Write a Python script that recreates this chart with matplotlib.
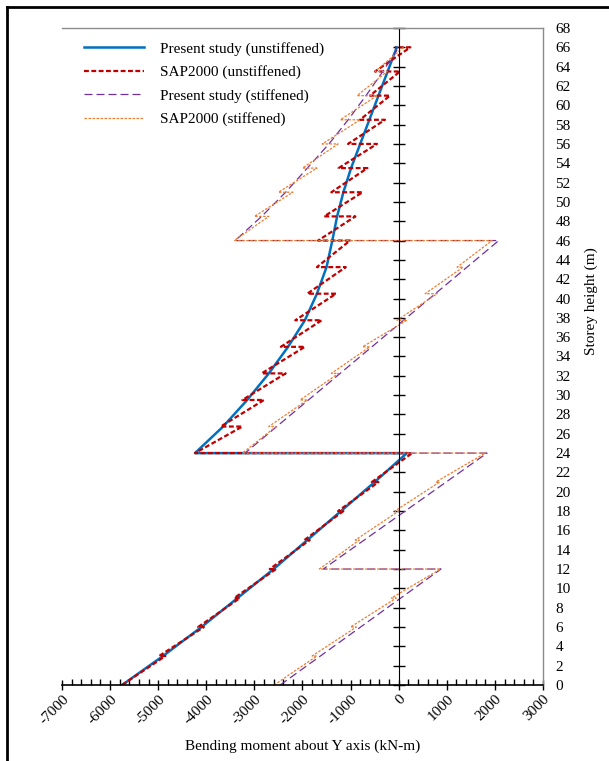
import numpy as np
import matplotlib.pyplot as plt
from matplotlib.lines import Line2D
from matplotlib.ticker import MultipleLocator

plt.rcParams['font.family'] = ['Liberation Serif', 'DejaVu Serif']
plt.rcParams['axes.unicode_minus'] = False

# floor levels (m)
floors = [0, 3, 6, 9, 12, 15, 18, 21, 24,
          26.75, 29.5, 32.25, 35, 37.75, 40.5, 43.25, 46,
          48.5, 51, 53.5, 56, 58.5, 61, 63.5, 66]

# present study, unstiffened (heights with repeated value = jump)
ps_u_h = [0, 3, 6, 9, 12, 15, 18, 21, 24, 24,
          26.75, 29.5, 32.25, 35, 37.75, 40.5, 43.25, 46,
          48.5, 51, 53.5, 56, 58.5, 61, 63.5, 66]
ps_u_m = [-5750, -4900, -4100, -3350, -2600, -1900, -1200, -500, 170, -4235,
          -3650, -3150, -2700, -2300, -1950, -1700, -1500, -1380,
          -1280, -1150, -990, -800, -610, -420, -230, -40]

# SAP2000 unstiffened: moment at bottom / top of each storey
sap_u_bot = [-5750, -4980, -4170, -3420, -2680, -1960, -1260, -560,
             -4235, -3700, -3250, -2850, -2450, -2150, -1900, -1700,
             -1676, -1550, -1400, -1250, -1054, -805, -597, -493]
sap_u_top = [-4850, -4050, -3300, -2550, -1850, -1150, -420, 280,
             -3250, -2800, -2350, -1950, -1600, -1300, -1100, -1012,
             -900, -750, -650, -451, -285, -181, 27, 243]
sap_u_roof = -80

# present study, stiffened
ps_s_h = [0, 12, 12, 24, 24, 46, 46, 48.5, 51, 53.5, 56, 58.5, 61, 63.5, 66]
ps_s_m = [-2463, 879, -1568, 1836, -3195, 2080, -3400, -2850, -2350, -1900,
          -1450, -1050, -680, -330, 0]

# SAP2000 stiffened: moment at bottom / top of each storey
sap_s_bot = [-2590, -1800, -1000, -150, -1650, -900, -80, 770,
             -3250, -2700, -2050, -1400, -750, -35, 550, 1215,
             -3420, -3000, -2500, -2000, -1590, -1214, -865, -490]
sap_s_top = [-1700, -880, -50, 870, -820, 0, 850, 1800,
             -2550, -1900, -1250, -600, 170, 800, 1340, 1940,
             -2700, -2200, -1700, -1260, -800, -450, -240, 100]


def storey_path(bot, top, roof=None):
    xs, ys = [], []
    for i in range(len(bot)):
        xs += [bot[i], top[i]]
        ys += [floors[i], floors[i + 1]]
    if roof is not None:
        xs.append(roof)
        ys.append(floors[-1])
    return xs, ys


fig = plt.figure(figsize=(6.09, 7.61), dpi=100)
ax = fig.add_axes([0.1018, 0.0999, 0.7898, 0.8633])

ax.plot(ps_u_m, ps_u_h, color='#0070C0', lw=1.8, label='Present study (unstiffened)')
x, y = storey_path(sap_u_bot, sap_u_top, sap_u_roof)
ax.plot(x, y, color='#C00000', lw=1.6, dashes=(2.2, 1.1), label='SAP2000 (unstiffened)')
ax.plot(ps_s_m, ps_s_h, color='#7030A0', lw=0.9, dashes=(6.4, 3.2), label='Present study (stiffened)')
x, y = storey_path(sap_s_bot, sap_s_top)
ax.plot(x, y, color='#ED7D31', lw=0.9, dashes=(2, 1.2), label='SAP2000 (stiffened)')

ax.set_xlim(-7000, 3000)
ax.set_ylim(0, 68)

# spines
for s in ['top', 'right']:
    ax.spines[s].set_color('#8c8c8c')
    ax.spines[s].set_linewidth(1)
ax.spines['left'].set_position(('data', 0))
ax.spines['left'].set_color('black')
ax.spines['bottom'].set_color('black')
ax.spines['bottom'].set_linewidth(1.2)

# x axis ticks
ax.xaxis.set_major_locator(MultipleLocator(1000))
ax.xaxis.set_minor_locator(MultipleLocator(200))
ax.tick_params(axis='x', which='major', direction='inout', length=7, width=1, labelsize=11, pad=2)
ax.tick_params(axis='x', which='minor', direction='in', length=4, width=1)
for lab in ax.get_xticklabels():
    lab.set_rotation(45)
    lab.set_ha('right')
    lab.set_va('top')
    lab.set_rotation_mode('anchor')

# y axis ticks on the zero line, labels on the right
ax.yaxis.set_major_locator(MultipleLocator(2))
ax.tick_params(axis='y', which='major', direction='inout', length=8, width=1,
               left=True, right=False, labelleft=False, labelright=True, labelsize=11, pad=5)

ax.set_xlabel('Bending moment about Y axis (kN-m)', fontsize=11, labelpad=9)
ax.yaxis.set_label_position('right')
ax.set_ylabel('Storey height (m)', fontsize=11)
ax.yaxis.set_label_coords(1.087, 0.585)

ax.legend(loc='upper left', bbox_to_anchor=(0.017, 1.0), frameon=False, fontsize=11,
          handlelength=3.9, handletextpad=1.1, labelspacing=0.63)

# outer chart border (left and top only visible)
fig.add_artist(Line2D([0.0115, 0.0115], [0, 0.991], transform=fig.transFigure, color='black', lw=2))
fig.add_artist(Line2D([0.0115, 1], [0.991, 0.991], transform=fig.transFigure, color='black', lw=2))

fig.savefig('out.png', dpi=100)
